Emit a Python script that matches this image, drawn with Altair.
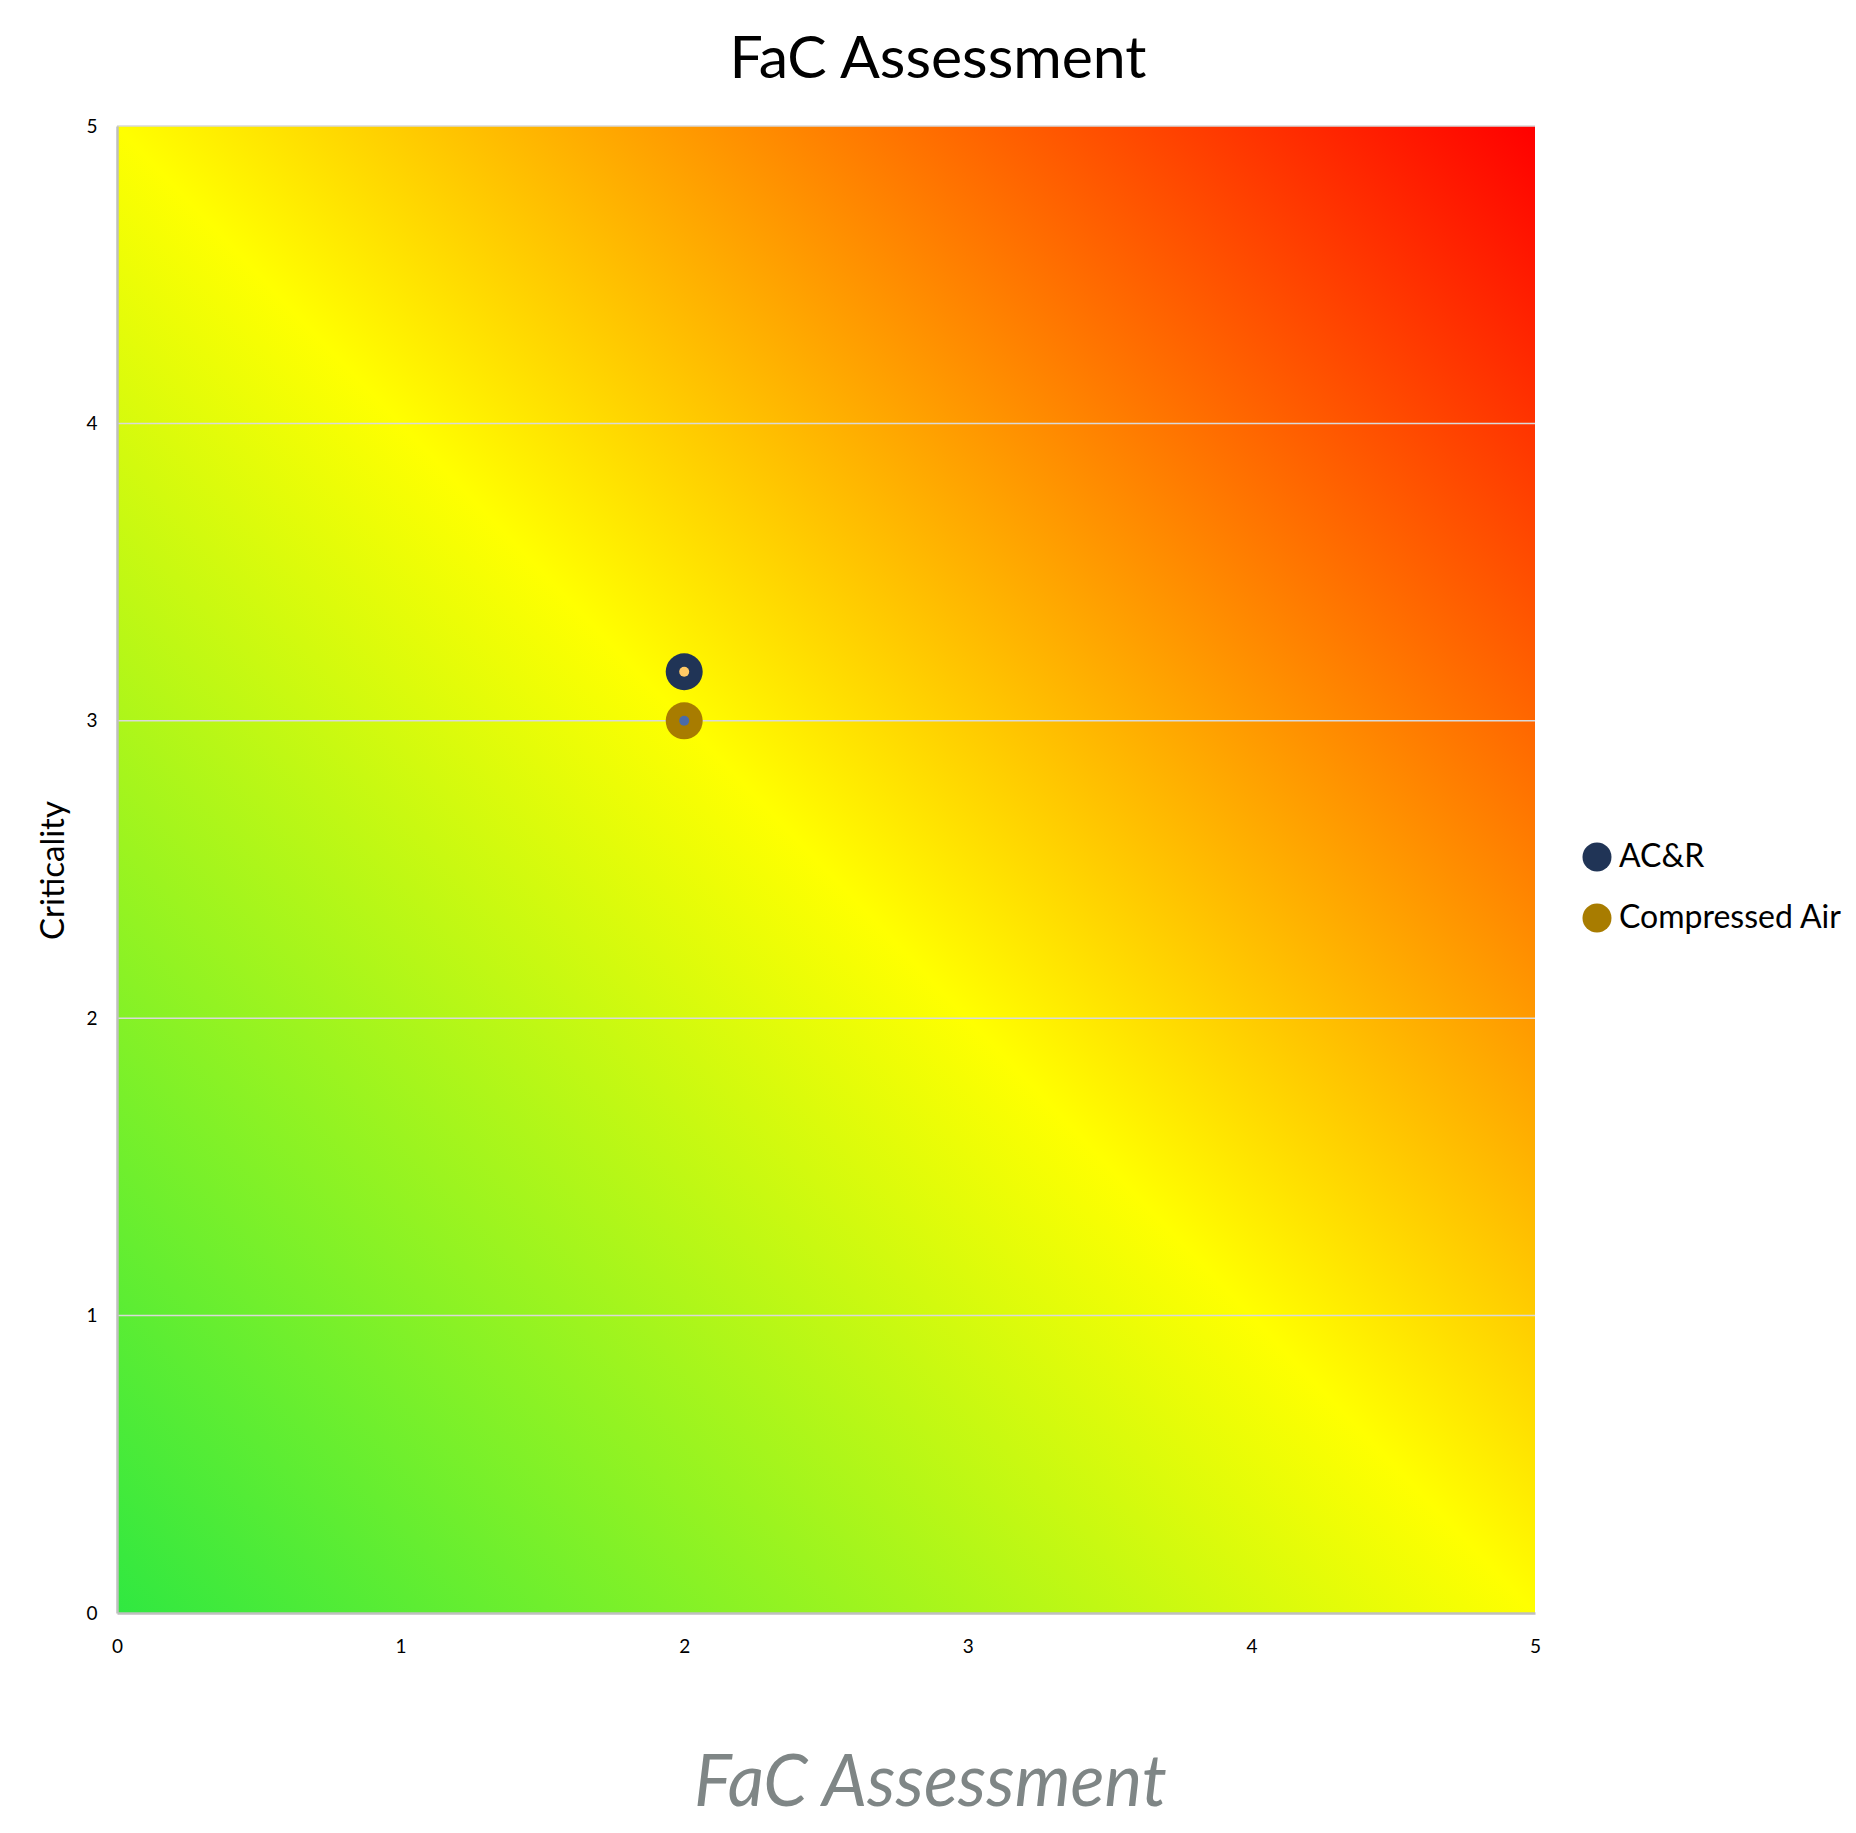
import altair as alt
import pandas as pd

# ---- data ----
series = ["AC&R", "Compressed Air"]
fac_values = [2, 2]
criticality_values = [3.165, 3.0]
outer_colors = ["#203456", "#a87c00"]
inner_colors = ["#ffc966", "#4a6ba8"]
tick_values = [0, 1, 2, 3, 4, 5]
grid_values = [1, 2, 3, 4, 5]
axis_range = [0, 5]

points = pd.DataFrame({
    "series": series,
    "fac": fac_values,
    "crit": criticality_values,
    "inner": inner_colors,
})
background = pd.DataFrame({
    "x0": [axis_range[0]], "x1": [axis_range[1]],
    "y0": [axis_range[0]], "y1": [axis_range[1]],
})
grid = pd.DataFrame({"g": grid_values})

FONT = "Lato"

xscale = alt.Scale(domain=axis_range, nice=False, zero=False)
yscale = alt.Scale(domain=axis_range, nice=False, zero=False)

xaxis = alt.Axis(
    values=tick_values, format="d", title="FaC Assessment",
    titleFont=FONT, titleFontStyle="italic", titleFontSize=71,
    titleFontWeight="normal", titleColor="#7f8686",
    titleX=813, titleY=192, titleBaseline="alphabetic", titleAlign="center",
    labelFont=FONT, labelFontSize=19, labelColor="black", labelPadding=24,
    labelFlush=False, ticks=False, grid=False,
    domainColor="#bfbfbf", domainWidth=2.5, zindex=1,
)
yaxis = alt.Axis(
    values=tick_values, format="d", title="Criticality",
    titleFont=FONT, titleFontSize=33, titleFontWeight="normal",
    titleColor="black", titleX=-64, titleY=744, titleBaseline="middle",
    titleAlign="center",
    labelFont=FONT, labelFontSize=19, labelColor="black", labelPadding=20,
    labelFlush=False, ticks=False, grid=False,
    domainColor="#bfbfbf", domainWidth=2.5, zindex=1,
)

gradient = alt.Gradient(
    gradient="linear",
    stops=[
        alt.GradientStop(color="#30e841", offset=0),
        alt.GradientStop(color="#ffff00", offset=0.5),
        alt.GradientStop(color="#ff0000", offset=1),
    ],
    x1=0, y1=1, x2=1, y2=0,
)

bg = alt.Chart(background).mark_rect(color=gradient).encode(
    x=alt.X("x0:Q", scale=xscale, axis=xaxis),
    x2="x1:Q",
    y=alt.Y("y0:Q", scale=yscale, axis=yaxis),
    y2="y1:Q",
)

rules = alt.Chart(grid).mark_rule(color="#d9d9d9", strokeWidth=1.5).encode(
    y=alt.Y("g:Q", scale=yscale, axis=yaxis),
)

outer = alt.Chart(points).mark_circle(size=1369, opacity=1).encode(
    x=alt.X("fac:Q", scale=xscale, axis=xaxis),
    y=alt.Y("crit:Q", scale=yscale, axis=yaxis),
    color=alt.Color(
        "series:N",
        scale=alt.Scale(domain=series, range=outer_colors),
        legend=alt.Legend(
            orient="none", legendX=1464, legendY=715, title=None,
            labelFont=FONT, labelFontSize=32, labelColor="black",
            labelLimit=500,
            symbolType="circle", symbolSize=841, symbolStrokeWidth=0,
            symbolOpacity=1, labelOffset=6, rowPadding=29, padding=0,
        ),
    ),
)

inner = alt.Chart(points).mark_circle(size=100, opacity=1).encode(
    x=alt.X("fac:Q", scale=xscale, axis=xaxis),
    y=alt.Y("crit:Q", scale=yscale, axis=yaxis),
    color=alt.Color("inner:N", scale=None),
)

chart = (
    alt.layer(bg, rules, outer, inner)
    .resolve_scale(color="independent")
    .properties(
        width=1418,
        height=1487,
        autosize=alt.AutoSizeParams(type="none"),
        padding={"left": 109, "top": 118, "right": 313, "bottom": 212},
        title=alt.TitleParams(
            "FaC Assessment", font=FONT, fontSize=59, fontWeight="normal",
            color="black", anchor="middle", frame="group", dx=112,
            offset=48, baseline="alphabetic", dy=68,
        ),
    )
    .configure_view(stroke=None)
)

chart.save("out.html", embed_options={"renderer": "svg", "actions": False})
